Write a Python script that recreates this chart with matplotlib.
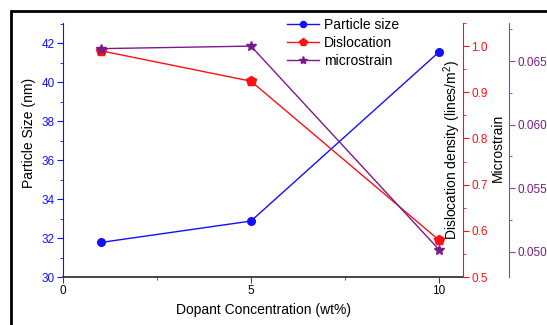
import matplotlib
matplotlib.use('Agg')
import matplotlib.pyplot as plt
from matplotlib.ticker import MultipleLocator, FormatStrFormatter
from matplotlib.patches import Rectangle

plt.rcParams['font.family'] = ['Liberation Sans', 'DejaVu Sans']
plt.rcParams['mathtext.default'] = 'regular'

# data
conc = [1, 5, 10]
particle_size = [31.77, 32.87, 41.54]
dislocation = [0.990, 0.924, 0.580]
microstrain = [0.06598, 0.06618, 0.05016]

blue = '#1010ff'
red = '#ff1010'
purple = '#7a1a8c'
purple_ax = '#9b3fa8'

fig = plt.figure(figsize=(5.47, 3.25), dpi=100)
ax = fig.add_axes([63/547, 1-277/325, 400/547, 254/325])
ax2 = ax.twinx()
ax3 = ax.twinx()

l1, = ax.plot(conc, particle_size, color=blue, lw=1.0, marker='o', ms=5.5,
              label='Particle size')
l2, = ax2.plot(conc, dislocation, color=red, lw=1.0, marker='p', ms=7,
               label='Dislocation')
l3, = ax3.plot(conc, microstrain, color=purple, lw=1.0, marker='*', ms=7.5,
               label='microstrain')

# x axis
ax.set_xlim(0, 10.64)
ax.xaxis.set_major_locator(MultipleLocator(5))
ax.xaxis.set_minor_locator(MultipleLocator(2.5))
ax.set_xlabel('Dopant Concentration (wt%)', fontsize=10, labelpad=4)

# left axis
ax.set_ylim(30, 43.03)
ax.yaxis.set_major_locator(MultipleLocator(2))
ax.yaxis.set_minor_locator(MultipleLocator(1))
ax.set_ylabel('Particle Size (nm)', fontsize=10, va='center')
ax.yaxis.set_label_coords(-0.085, 0.567)
ax.spines['top'].set_visible(False)
ax.spines['right'].set_visible(False)
ax.spines['left'].set_color(blue)
ax.spines['bottom'].set_color('#444444')
ax.spines['bottom'].set_linewidth(1.4)
ax.tick_params(axis='y', which='both', colors=blue, direction='out')
ax.tick_params(axis='x', which='both', colors='#444444', labelcolor='black',
               direction='out')
ax.tick_params(which='major', length=4, labelsize=8.5, pad=2)
ax.tick_params(which='minor', length=2.5)

# red axis
ax2.set_ylim(0.5, 1.05)
ax2.yaxis.set_major_locator(MultipleLocator(0.1))
ax2.yaxis.set_minor_locator(MultipleLocator(0.05))
ax2.yaxis.set_major_formatter(FormatStrFormatter('%.1f'))
ax2.set_ylabel('Dislocation density (lines/m$^2$)', fontsize=10, va='center')
ax2.yaxis.set_label_coords(0.9725, 0.5)
for s in ['top', 'left', 'bottom']:
    ax2.spines[s].set_visible(False)
ax2.spines['right'].set_color(red)
ax2.tick_params(axis='y', which='both', colors=red, direction='out')
ax2.tick_params(which='major', length=4, labelsize=8.5, pad=2)
ax2.tick_params(which='minor', length=2.5)

# purple axis
ax3.set_ylim(0.048, 0.068)
ax3.spines['right'].set_position(('axes', 1.115))
ax3.yaxis.set_major_locator(MultipleLocator(0.005))
ax3.yaxis.set_minor_locator(MultipleLocator(0.0025))
ax3.yaxis.set_major_formatter(FormatStrFormatter('%.3f'))
ax3.set_ylabel('Microstrain', fontsize=10, va='center')
ax3.yaxis.set_label_coords(1.0875, 0.51)
for s in ['top', 'left', 'bottom']:
    ax3.spines[s].set_visible(False)
ax3.spines['right'].set_color(purple_ax)
ax3.tick_params(axis='y', which='both', colors=purple_ax, labelcolor=purple,
                direction='out')
ax3.tick_params(which='major', length=4, labelsize=8.5, pad=2)
ax3.tick_params(which='minor', length=2.5)

fig.legend(handles=[l1, l2, l3], loc='upper left', markerscale=0.8,
           bbox_to_anchor=(287/547, 1-18/325), bbox_transform=fig.transFigure,
           frameon=False, fontsize=10, borderpad=0, borderaxespad=0,
           labelspacing=0.3, handlelength=2.3, handletextpad=0.35)

# frame round the figure (right and bottom edges are cut off)
fig.patches.append(Rectangle((11/547, -0.2), 2, 1.2 - 11/325, fill=False,
                             lw=2.0, edgecolor='black',
                             transform=fig.transFigure, figure=fig))

fig.savefig('out.png', dpi=100)
